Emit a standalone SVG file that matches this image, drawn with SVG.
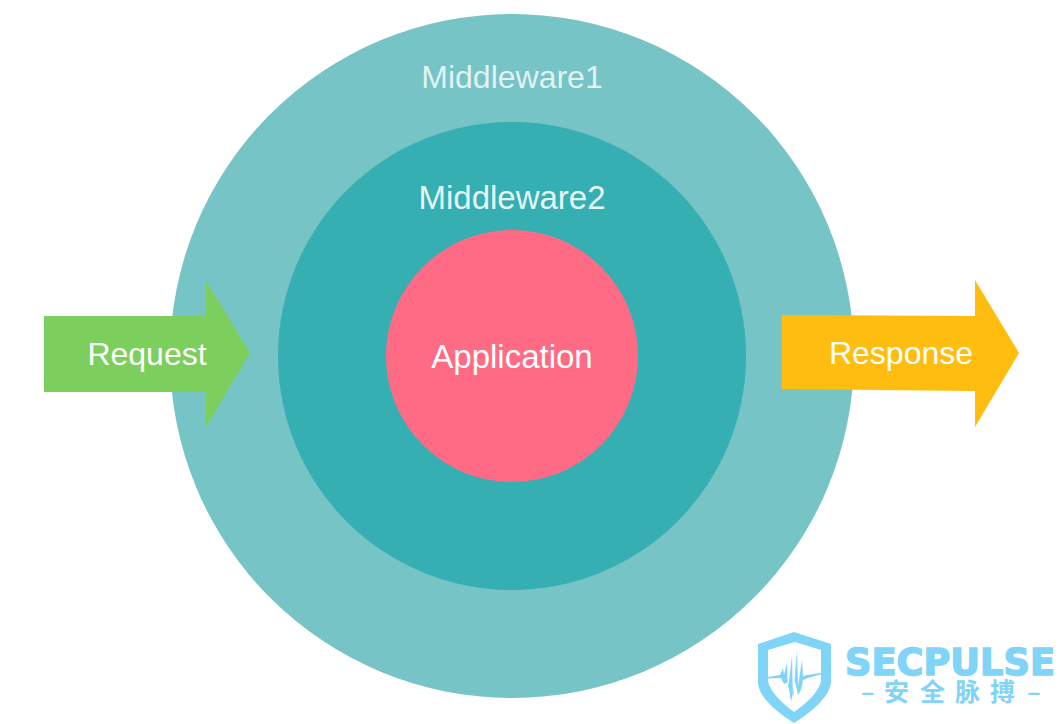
<svg xmlns="http://www.w3.org/2000/svg" width="1060" height="724" viewBox="0 0 1060 724">
<style>
.l{font-family:"Liberation Sans",Arial,sans-serif;font-size:32px;fill:#fff;text-anchor:middle}
.b{font-size:33px}
.logo{fill:#7fd4f7}
</style>
<rect width="1060" height="724" fill="#fff"/>
<g id="middleware1"><circle cx="512" cy="356" r="342" fill="#76c4c5"/><text class="l" x="512" y="88" fill-opacity=".8">Middleware1</text></g>
<g id="middleware2"><circle cx="512" cy="356" r="234" fill="#36afb3"/><text class="l b" x="512" y="209" fill-opacity=".9">Middleware2</text></g>
<g id="application"><circle cx="512" cy="356" r="126" fill="#ff6b84"/><text class="l b" x="512" y="368">Application</text></g>
<g id="connectors">
<g id="request"><polygon points="44,316 206,316 206,281 250,353 206,427 206,392 44,392" fill="#7ccf5c"/><text class="l" x="147" y="365">Request</text></g>
<g id="response"><polygon points="782,315 975,316 975,280 1019,353 975,427 975,391 782,389" fill="#ffbd0f"/><text class="l" x="901" y="364">Response</text></g>
</g>
<g id="logo">
<path class="logo" fill-rule="evenodd" d="M794,632 L831,644 V683 C829,698 810,713 794,723 C778,713 759,698 758,683 V644 Z M795,642 L768,650 V681 C770,692 783,704 794,712 C806,704 819,692 821,681 V650 Z"/>
<polygon class="logo" points="756,679 780,675 783,668 784,675 787,663 788,690 792,656 793,700 797,650 798,686 802,660 803,676 807,675 833,671 808,678 803,680 801,690 798,695 795,681 791,702 788,682 784,684 781,678"/>
<text class="logo" x="845" y="675" font-family="'DejaVu Sans',sans-serif" font-weight="700" font-size="37" textLength="210" lengthAdjust="spacingAndGlyphs" stroke="#7fd4f7" stroke-width="1.5">SECPULSE</text>
<text class="logo" y="701" x="861 884 920 955 990 1027" font-family="'Noto Sans CJK SC',sans-serif" font-weight="700" font-size="25">–安全脉搏–</text>
</g>
</svg>
